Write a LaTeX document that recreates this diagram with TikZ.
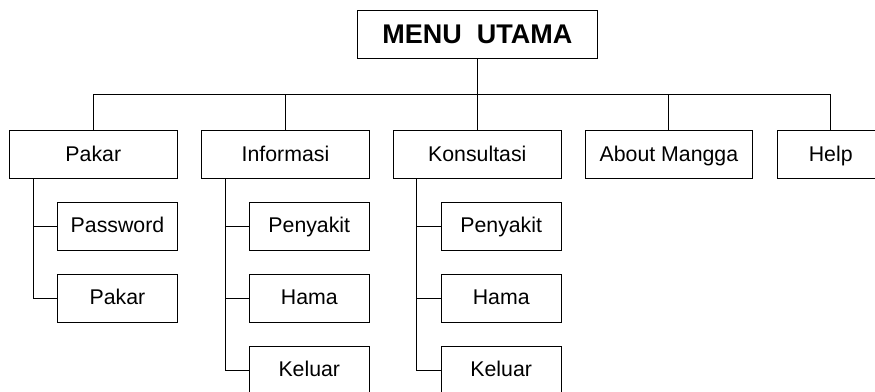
\documentclass[tikz,border=0pt]{standalone}
\usepackage{fontspec}
\setmainfont{Liberation Sans}
\begin{document}
\begin{tikzpicture}[x=1pt,y=-1pt,line width=1pt,
  box/.style={draw,rectangle,inner sep=0pt,anchor=center,
    font=\fontsize{21.3}{25}\selectfont,text height=15pt,text depth=2pt,
    minimum height=47.8pt},
  mainbox/.style={box,minimum width=168pt},
  subbox/.style={box,minimum width=119.6pt},
  titlebox/.style={draw,rectangle,inner sep=0pt,anchor=center,
    font=\fontsize{27}{32}\selectfont\bfseries,text height=19pt,text depth=1pt,
    minimum width=240pt,minimum height=48pt},
  conn/.style={draw,line width=1pt}]
\useasboundingbox (0,0) rectangle (875,391);
\clip (0,0) rectangle (875,391);

\node[titlebox] (menu) at (477.3,34.3) {MENU\ \ UTAMA};

\node[mainbox] (pakar) at (93.3,154.5) {Pakar};
\node[mainbox,minimum width=167.6pt] (info) at (285.5,154.5) {Informasi};
\node[mainbox] (kons) at (477.3,154.5) {Konsultasi};
\node[mainbox,minimum width=167.7pt] (about) at (668.9,154.5) {About Mangga};
\node[box,minimum width=107pt] (help) at (830.7,154.5) {Help};

\node[subbox] (pk1) at (117.5,226.1) {Password};
\node[subbox] (pk2) at (117.5,298.3) {Pakar};

\node[subbox] (in1) at (309.3,226.1) {Penyakit};
\node[subbox] (in2) at (309.3,298.3) {Hama};
\node[subbox] (in3) at (309.3,370) {Keluar};

\node[subbox] (ko1) at (501.2,226.1) {Penyakit};
\node[subbox] (ko2) at (501.2,298.3) {Hama};
\node[subbox] (ko3) at (501.2,370) {Keluar};

\coordinate (bus) at (0,94.3);
\draw[conn] (menu.south) -- (menu.south |- bus);
\draw[conn] (pakar.north) -- (pakar.north |- bus) -- (help.north |- bus) -- (help.north);
\draw[conn] (info.north) -- (info.north |- bus);
\draw[conn] (kons.north) -- (kons.north |- bus);
\draw[conn] (about.north) -- (about.north |- bus);

\coordinate (pt) at ([xshift=24.3pt]pakar.south west);
\draw[conn] (pt) |- (pk2.west);
\draw[conn] (pt |- pk1.west) -- (pk1.west);

\coordinate (it) at ([xshift=24.3pt]info.south west);
\draw[conn] (it) |- (in3.west);
\draw[conn] (it |- in1.west) -- (in1.west);
\draw[conn] (it |- in2.west) -- (in2.west);

\coordinate (kt) at ([xshift=24.1pt]kons.south west);
\draw[conn] (kt) |- (ko3.west);
\draw[conn] (kt |- ko1.west) -- (ko1.west);
\draw[conn] (kt |- ko2.west) -- (ko2.west);
\end{tikzpicture}
\end{document}
